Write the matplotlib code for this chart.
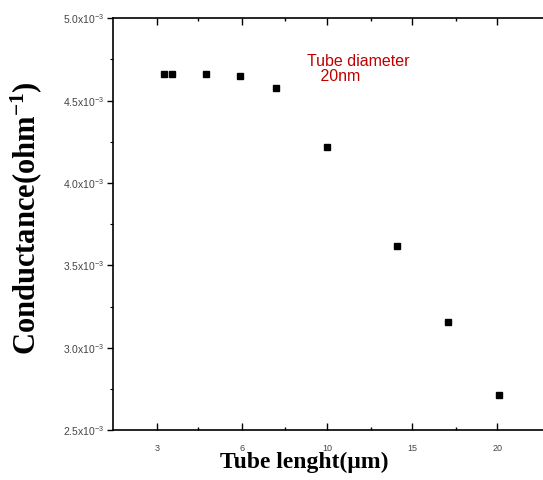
import matplotlib
matplotlib.use("Agg")
import matplotlib.pyplot as plt
from matplotlib.ticker import FixedLocator, MultipleLocator

plt.rcParams['mathtext.default'] = 'regular'
plt.rcParams['mathtext.fontset'] = 'custom'
plt.rcParams['mathtext.rm'] = 'Liberation Sans'
plt.rcParams['mathtext.bf'] = 'Liberation Serif:bold'

# tube length (position along axis) and conductance (x1e-3 ohm^-1)
length = [0.4, 0.9, 2.9, 4.9, 7.0, 10.0, 14.1, 17.1, 20.1]
conductance = [46.64, 46.64, 46.64, 46.52, 45.75, 42.17, 36.16, 31.55, 27.12]

xtick_pos = [0, 5, 10, 15, 20]
xtick_labels = ["3", "6", "10", "15", "20"]
ytick_pos = [25, 30, 35, 40, 45, 50]
ytick_labels = ["%.1fx10$^{-3}$" % (v / 10) for v in ytick_pos]

fig = plt.figure(figsize=(5.43, 4.8), dpi=100)
ax = fig.add_axes([0.208, 0.104, 0.792, 0.858])

ax.plot(length, conductance, 's', color='black', markersize=5)

ax.set_xlim(-2.6, 22.7)
ax.set_ylim(25, 50)
ax.spines['right'].set_visible(False)
for s in ['left', 'top', 'bottom']:
    ax.spines[s].set_linewidth(1.2)

ax.xaxis.set_major_locator(FixedLocator(xtick_pos))
ax.set_xticklabels(xtick_labels, fontsize=6.5, color='#444444', family='Liberation Sans')
ax.xaxis.set_minor_locator(FixedLocator([2.4, 7.5, 12.6, 17.6]))
ax.yaxis.set_major_locator(FixedLocator(ytick_pos))
ax.set_yticklabels(ytick_labels, fontsize=7.5, color='#444444', family='Liberation Sans')
ax.yaxis.set_minor_locator(MultipleLocator(2.5))

ax.tick_params(axis='x', which='both', direction='in', top=True, bottom=True, pad=10)
ax.tick_params(axis='x', which='major', length=5, width=1)
ax.tick_params(axis='x', which='minor', length=2.5, width=1)
ax.tick_params(axis='y', which='both', direction='out', left=True, right=False, pad=2)
ax.tick_params(axis='y', which='major', length=4, width=1)
ax.tick_params(axis='y', which='minor', length=2, width=0.8)

ax.set_xlabel(u"Tube lenght(\u03bcm)", family='Liberation Serif', fontweight='bold',
              fontsize=17)
ax.xaxis.set_label_coords(0.444, -0.053)
ax.set_ylabel(r"Conductance(ohm$^{\mathbf{-1}}$)", family='Liberation Serif',
              fontweight='bold', fontsize=22)
ax.yaxis.set_label_coords(-0.16, 0.515)

ax.text(8.8, 47.8, "Tube diameter\n   20nm", color='#c00000', fontsize=11.5,
        family='Liberation Sans', linespacing=1.0, va='top')

fig.savefig("out.png", dpi=100)
